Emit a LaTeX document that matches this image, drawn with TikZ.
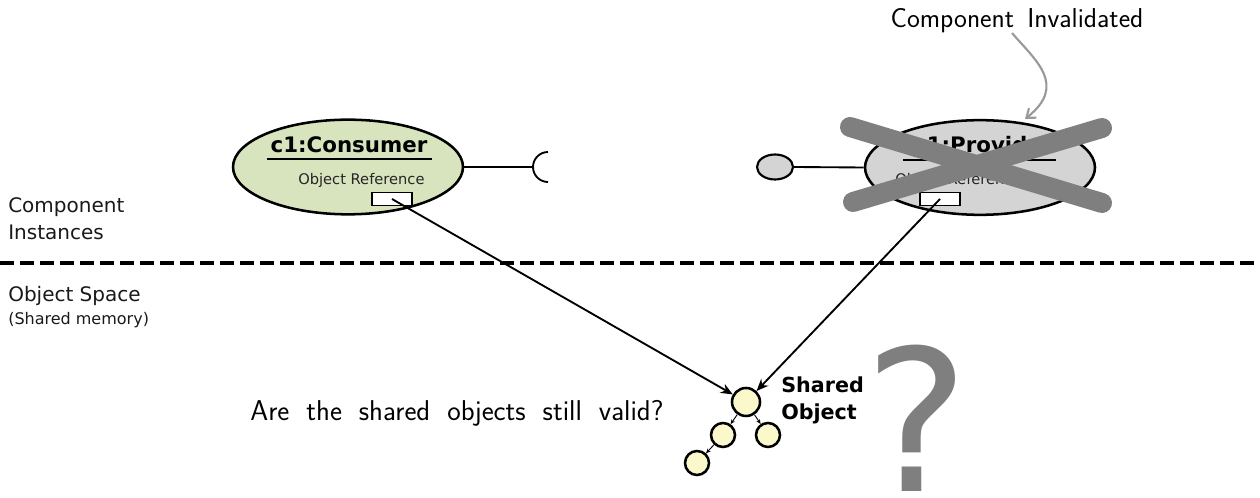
\documentclass[tikz,border=0pt]{standalone}
\usepackage{fontspec}
\setmainfont{DejaVu Sans}
\usetikzlibrary{arrows.meta,shapes.geometric}
\definecolor{consfill}{HTML}{D7E4BD}
\definecolor{provfill}{HTML}{D4D4D4}
\definecolor{objfill}{HTML}{FBF8CC}
\definecolor{xgray}{HTML}{7F7F7F}
\definecolor{arrgray}{HTML}{999999}
\begin{document}
\begin{tikzpicture}[x=0.75pt,y=-0.75pt,
  comp/.style={ellipse, draw=black, line width=1.9pt, minimum width=172.5pt, minimum height=71pt, inner sep=0pt},
  refbox/.style={draw=black, fill=white, line width=1.1pt, minimum width=30pt, minimum height=10pt, inner sep=0pt},
  obj/.style={circle, draw=black, line width=1.9pt, fill=objfill, inner sep=0pt, minimum size=18pt},
  mainobj/.style={obj, minimum size=21pt},
  link/.style={-{Stealth[length=9pt,width=7.5pt]}, line width=1.4pt},
  treelink/.style={-{Stealth[length=3.5pt,width=3pt]}, line width=0.7pt},
  title/.style={font=\fontsize{16}{19}\selectfont\bfseries, anchor=base, inner sep=0pt},
  small/.style={font=\fontsize{11}{13}\selectfont, anchor=base west, inner sep=0pt, text=black!85},
  side/.style={font=\fontsize{15}{18}\selectfont, anchor=base west, inner sep=0pt, text=black!90},
  hand/.style={font=\sffamily\fontsize{20.5}{24}\selectfont, inner sep=0pt},
  cross/.style={line width=15pt, xgray, line cap=round}
]
\useasboundingbox (0,0) rectangle (1260,498);

% separator
\draw[line width=3pt, dash pattern=on 10.5pt off 4.5pt] (0,263) -- (1260,263);

% side labels
\node[side] (l1) at (8,213) {Component};
\node[side] (l2) at (8,240) {Instances};
\node[side] (l3) at (8,302) {Object Space};
\node[side, font=\fontsize{12}{14}\selectfont] (l4) at (8,325) {(Shared memory)};

% consumer
\node[comp, fill=consfill] (cons) at (348,167) {};
\node[title] (ctitle) at (349,153) {c1:Consumer};
\draw[line width=1.6pt] (267,159) -- (432,159);
\node[small] (cobj) at (298,185) {Object Reference};
\node[refbox] (cref) at (392,199) {};
\coordinate (sock) at (533,167);
\draw[line width=1.4pt] (cons.east) -- (sock);
\draw[line width=1.4pt] (548,152) arc[start angle=90, end angle=270, radius=11.25pt];

% provider
\node[comp, fill=provfill] (prov) at (980,167.5) {};
\node[title] (ptitle) at (982,153) {p1:Provider};
\draw[line width=1.6pt] (903,160) -- (1056,160);
\node[small] (pobj) at (895,185) {Object Reference};
\node[refbox] (pref) at (940,199) {};
\node[ellipse, draw=black, line width=1.6pt, fill=provfill, minimum width=27pt, minimum height=18.75pt, inner sep=0pt] (lolli) at (775,167) {};
\draw[line width=1.4pt] (lolli.east) -- (prov.west);

% cross
\draw[cross] (850,127) -- (1102,203);
\draw[cross] (853,202) -- (1102,128);

% invalidated label
\node[hand] (inv) at (1017,21) {Component\, Invalidated};
\coordinate (invs) at (1012,33);
\coordinate (invt) at (1025,119);
\draw[arrgray, line width=1.6pt, -{Straight Barb[length=6pt,width=9pt]}] (invs) .. controls (1035,60) and (1068,85) .. (invt);

% shared objects
\node[mainobj] (main) at (746,402) {};
\node[obj] (c1) at (723,435) {};
\node[obj] (c2) at (768,435) {};
\node[obj] (g1) at (697,463) {};
\draw[treelink] (main) -- (c1);
\draw[treelink] (main) -- (c2);
\draw[treelink] (c1) -- (g1);
\node[font=\fontsize{15.5}{20}\selectfont\bfseries, anchor=base west, inner sep=0pt] (so1) at (781,393) {Shared};
\node[font=\fontsize{15.5}{20}\selectfont\bfseries, anchor=base west, inner sep=0pt] (so2) at (781,420) {Object};

\draw[link] (cref.center) -- (main);
\draw[link] (pref.center) -- (main);

\node[hand, font=\sffamily\fontsize{21.5}{25}\selectfont] (q) at (457,413) {Are\; the\; shared\; objects\; still\; valid?};

\node[font=\fontsize{148}{150}\selectfont, text=xgray, anchor=base, inner sep=0pt, text depth=0pt] (qm) at (917,492) {?};
\end{tikzpicture}
\end{document}
